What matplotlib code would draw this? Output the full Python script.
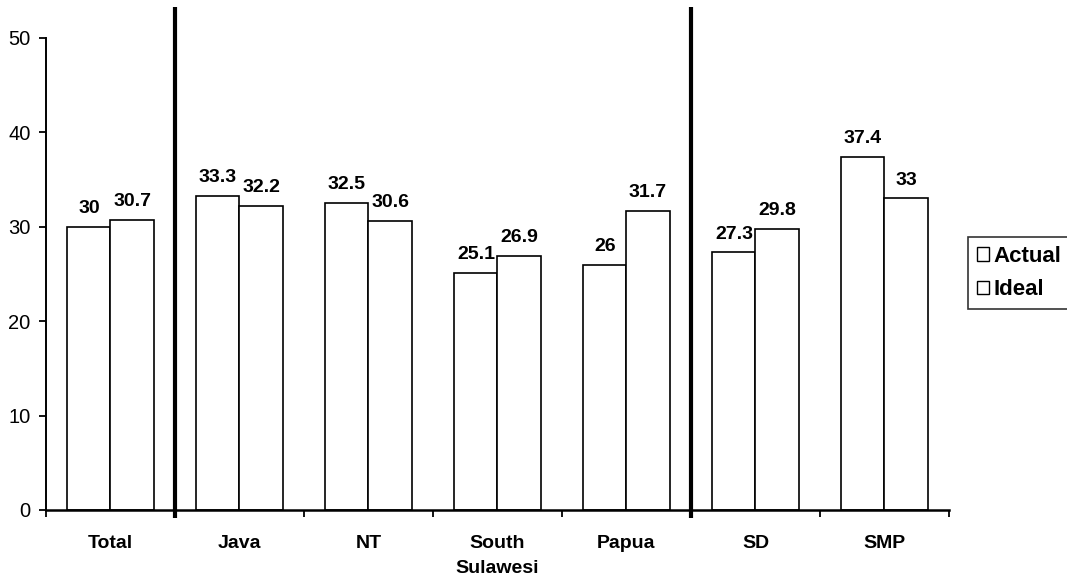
import numpy as np
import matplotlib
matplotlib.use('Agg')
import matplotlib.pyplot as plt
from matplotlib.patches import Patch

plt.rcParams['font.family'] = ['Liberation Sans', 'DejaVu Sans']

categories = ['Total', 'Java', 'NT', 'South\nSulawesi', 'Papua', 'SD', 'SMP']
actual = [30, 33.3, 32.5, 25.1, 26, 27.3, 37.4]
ideal = [30.7, 32.2, 30.6, 26.9, 31.7, 29.8, 33]
separators = [1, 5]  # group boundaries drawn as heavy lines

fig = plt.figure(figsize=(10.67, 5.88), dpi=100)
ax = fig.add_axes([0.0431, 0.1327, 0.8463, 0.8027])

x = np.arange(len(categories)) + 0.5
w = 0.334
ax.bar(x - w / 2, actual, w, color='white', edgecolor='black', linewidth=1.2)
ax.bar(x + w / 2, ideal, w, color='white', edgecolor='black', linewidth=1.2)

for xi, a, b in zip(x, actual, ideal):
    ax.annotate(f'{a:g}', (xi - w / 2, a), xytext=(0, 7), textcoords='offset points',
                ha='center', va='bottom', fontsize=14, fontweight='bold')
    ax.annotate(f'{b:g}', (xi + w / 2, b), xytext=(0, 7), textcoords='offset points',
                ha='center', va='bottom', fontsize=14, fontweight='bold')

for s in separators:
    ax.plot([s, s], [-0.85, 53.3], color='black', linewidth=3.0,
            clip_on=False, solid_capstyle='butt')

ax.set_xlim(0, len(categories))
ax.set_ylim(0, 50)
ax.set_yticks(range(0, 51, 10))
ax.set_yticklabels([str(v) for v in range(0, 51, 10)], fontsize=14.5)
ax.set_xticks(np.arange(len(categories) + 1))
ax.set_xticklabels([])
ax.set_xticks(x, minor=True)
ax.set_xticklabels(categories, minor=True, fontsize=14,
                   fontweight='bold', linespacing=1.65)
ax.tick_params(axis='x', which='minor', length=0, pad=18)
ax.tick_params(axis='x', which='major', length=5, width=1.3, direction='out')
ax.tick_params(axis='y', length=5, width=1.3, pad=6)

for side in ['top', 'right']:
    ax.spines[side].set_visible(False)
ax.spines['left'].set_linewidth(1.4)
ax.spines['bottom'].set_linewidth(1.8)

handles = [Patch(facecolor='white', edgecolor='black', linewidth=1.0, label='Actual'),
           Patch(facecolor='white', edgecolor='black', linewidth=1.0, label='Ideal')]
leg = fig.legend(handles=handles, loc='upper left', bbox_to_anchor=(0.9072, 0.597),
                 frameon=True, fancybox=False, edgecolor='black',
                 prop={'size': 16, 'weight': 'bold'},
                 handlelength=0.55, handleheight=0.55, handletextpad=0.2,
                 borderpad=0.4, labelspacing=0.55, borderaxespad=0)
leg.get_frame().set_linewidth(1.2)

fig.savefig('out.png', dpi=100)
